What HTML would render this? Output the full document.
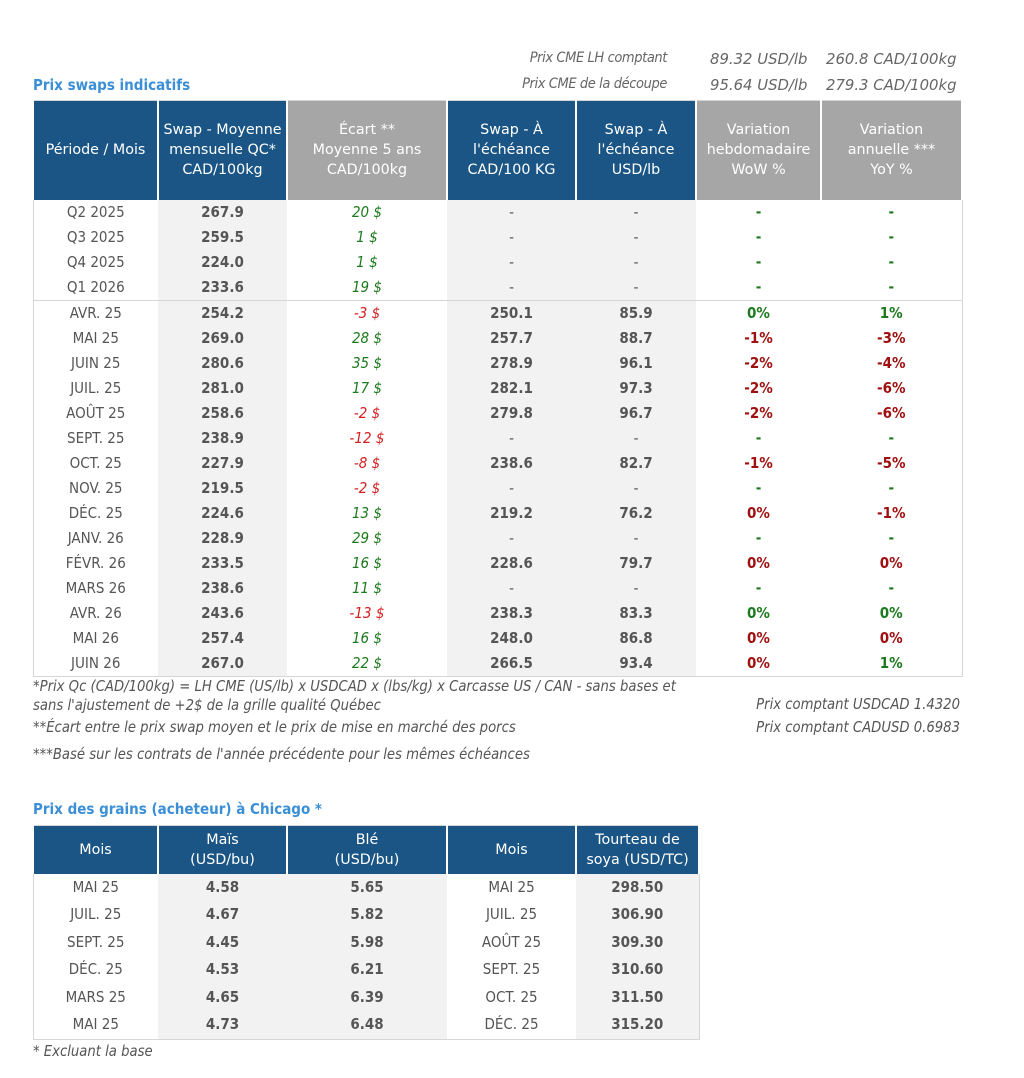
<!DOCTYPE html>
<html><head><meta charset="utf-8">
<style>
body{margin:0;width:1024px;height:1078px;background:#fff;font-family:"DejaVu Sans Condensed","Liberation Sans",sans-serif;color:#555;position:relative;overflow:hidden}
.abs{position:absolute;white-space:nowrap}
.title{color:#3a8fd6;font-weight:bold;font-size:15px}
.it{font-style:italic;font-size:15px;color:#666}
.fn{font-style:italic;font-size:14.7px;color:#555}
table{border-collapse:collapse;table-layout:fixed;position:absolute}
th{color:#fff;font-weight:normal;font-family:"DejaVu Sans","Liberation Sans",sans-serif;font-size:14.3px;line-height:20px;border-left:2px solid #fff;border-right:2px solid #fff;padding:0}
th.b{background:#1a5585}th.g{background:#a6a6a6}
td{text-align:center;font-size:15px;padding:0;height:25px;line-height:25px}
td.s{background:#f2f2f2}
.v{font-weight:bold;color:#555}
.gr{color:#1e7a1e}.rd{color:#d42020}.dr{color:#a01010}
.e{font-style:italic}
.bd{font-weight:bold}
#t1,#t2{border:1px solid #d6d6d6}
tr.sep td{border-top:1px solid #d6d6d6}
#t2 td{height:27.6px;line-height:27.6px}
.lbl{font-size:14.5px;letter-spacing:-0.4px}
.sxv{transform:scaleX(1.10);transform-origin:left center}
</style></head><body>
<div class="abs it lbl" style="right:357px;top:50px">Prix CME LH comptant</div>
<div class="abs it sxv" style="left:710px;top:50px">89.32 USD/lb</div>
<div class="abs it sxv" style="left:826px;top:50px">260.8 CAD/100kg</div>
<div class="abs it lbl" style="right:357px;top:76px">Prix CME de la découpe</div>
<div class="abs it sxv" style="left:710px;top:76px">95.64 USD/lb</div>
<div class="abs it sxv" style="left:826px;top:76px">279.3 CAD/100kg</div>
<div class="abs title" style="left:33px;top:76px">Prix swaps indicatifs</div>

<table id="t1" style="left:32px;top:100px;width:929px">
<colgroup><col style="width:125px"><col style="width:129px"><col style="width:160px"><col style="width:129px"><col style="width:120px"><col style="width:125px"><col style="width:141px"></colgroup>
<tr style="height:99px">
<th class="b">Période / Mois</th><th class="b">Swap - Moyenne<br>mensuelle QC*<br>CAD/100kg</th><th class="g">Écart **<br>Moyenne 5 ans<br>CAD/100kg</th><th class="b">Swap - À<br>l'échéance<br>CAD/100 KG</th><th class="b">Swap - À<br>l'échéance<br>USD/lb</th><th class="g">Variation<br>hebdomadaire<br>WoW %</th><th class="g">Variation<br>annuelle ***<br>YoY %</th></tr>
<tbody id="b1"></tbody></table>

<div class="abs fn" style="left:33px;top:677px;line-height:19px">*Prix Qc (CAD/100kg) = LH CME (US/lb) x USDCAD x (lbs/kg) x Carcasse US / CAN - sans bases et<br>sans l'ajustement de +2$ de la grille qualité Québec</div>
<div class="abs fn" style="right:64px;top:696px">Prix comptant USDCAD 1.4320</div>
<div class="abs fn" style="left:33px;top:719px">**Écart entre le prix swap moyen et le prix de mise en marché des porcs</div>
<div class="abs fn" style="right:64px;top:719px">Prix comptant CADUSD 0.6983</div>
<div class="abs fn" style="left:33px;top:746px">***Basé sur les contrats de l'année précédente pour les mêmes échéances</div>

<div class="abs title" style="left:33px;top:800px">Prix des grains (acheteur) à Chicago *</div>
<table id="t2" style="left:32px;top:825px;width:666px">
<colgroup><col style="width:125px"><col style="width:129px"><col style="width:160px"><col style="width:129px"><col style="width:123px"></colgroup>
<tr style="height:48px"><th class="b">Mois</th><th class="b">Maïs<br>(USD/bu)</th><th class="b">Blé<br>(USD/bu)</th><th class="b">Mois</th><th class="b">Tourteau de<br>soya (USD/TC)</th></tr>
<tbody id="b2"></tbody></table>
<div class="abs fn" style="left:33px;top:1043px">* Excluant la base</div>

<script>
const periods=["Q2 2025","Q3 2025","Q4 2025","Q1 2026","AVR. 25","MAI 25","JUIN 25","JUIL. 25","AOÛT 25","SEPT. 25","OCT. 25","NOV. 25","DÉC. 25","JANV. 26","FÉVR. 26","MARS 26","AVR. 26","MAI 26","JUIN 26"];
const swapAvg=["267.9","259.5","224.0","233.6","254.2","269.0","280.6","281.0","258.6","238.9","227.9","219.5","224.6","228.9","233.5","238.6","243.6","257.4","267.0"];
const ecart=[20,1,1,19,-3,28,35,17,-2,-12,-8,-2,13,29,16,11,-13,16,22];
const swapCad=["-","-","-","-","250.1","257.7","278.9","282.1","279.8","-","238.6","-","219.2","-","228.6","-","238.3","248.0","266.5"];
const swapUsd=["-","-","-","-","85.9","88.7","96.1","97.3","96.7","-","82.7","-","76.2","-","79.7","-","83.3","86.8","93.4"];
const wow=["-","-","-","-","0%","-1%","-2%","-2%","-2%","-","-1%","-","0%","-","0%","-","0%","0%","0%"];
const wowCls=["gr","gr","gr","gr","gr","dr","dr","dr","dr","gr","dr","gr","dr","gr","dr","gr","gr","dr","dr"];
const yoy=["-","-","-","-","1%","-3%","-4%","-6%","-6%","-","-5%","-","-1%","-","0%","-","0%","0%","1%"];
const yoyCls=["gr","gr","gr","gr","gr","dr","dr","dr","dr","gr","dr","gr","dr","gr","dr","gr","gr","dr","gr"];
const b1=document.getElementById('b1');
periods.forEach((p,i)=>{
  const tr=document.createElement('tr');
  
  
  if(i===4) tr.className='sep';
  const dash=v=>v==='-';
  tr.innerHTML=`<td>${p}</td><td class="s v">${swapAvg[i]}</td><td class="e ${ecart[i]<0?'rd':'gr'}">${ecart[i]} $</td><td class="s ${dash(swapCad[i])?'':'v'}">${swapCad[i]}</td><td class="s ${dash(swapUsd[i])?'':'v'}">${swapUsd[i]}</td><td class="bd ${wowCls[i]}">${wow[i]}</td><td class="bd ${yoyCls[i]}">${yoy[i]}</td>`;
  b1.appendChild(tr);
});
const grainMonths=["MAI 25","JUIL. 25","SEPT. 25","DÉC. 25","MARS 25","MAI 25"];
const mais=["4.58","4.67","4.45","4.53","4.65","4.73"];
const ble=["5.65","5.82","5.98","6.21","6.39","6.48"];
const soyaMonths=["MAI 25","JUIL. 25","AOÛT 25","SEPT. 25","OCT. 25","DÉC. 25"];
const soya=["298.50","306.90","309.30","310.60","311.50","315.20"];
const b2=document.getElementById('b2');
grainMonths.forEach((m,i)=>{
  const tr=document.createElement('tr');
  
  
  tr.innerHTML=`<td>${m}</td><td class="s v">${mais[i]}</td><td class="s v">${ble[i]}</td><td>${soyaMonths[i]}</td><td class="s v">${soya[i]}</td>`;
  b2.appendChild(tr);
});
</script>
</body></html>
